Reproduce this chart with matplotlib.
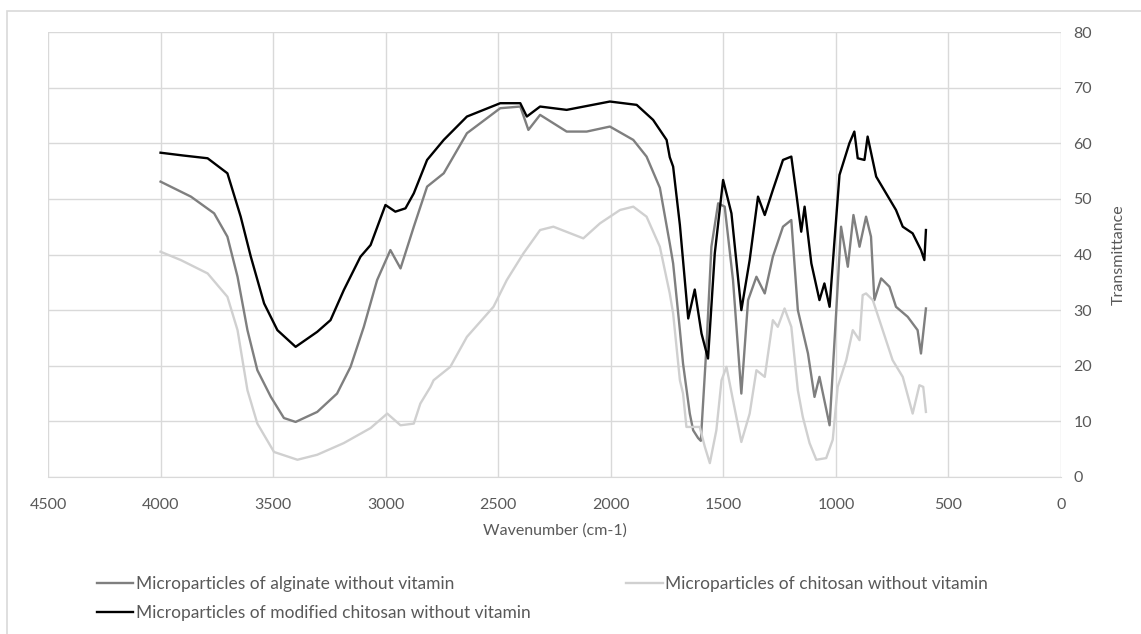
import matplotlib
matplotlib.use("Agg")
import matplotlib.pyplot as plt
from matplotlib.patches import Rectangle

# FTIR spectra (wavenumber cm-1, transmittance)
alg_wn = [4000, 3865, 3762, 3703, 3658, 3614, 3570, 3510, 3452, 3400, 3304, 3216,
          3156, 3097, 3038, 2979, 2934, 2875, 2816, 2742, 2639, 2491, 2402, 2366,
          2314, 2196, 2107, 2004, 1900, 1841, 1782, 1760, 1738, 1723, 1693, 1679,
          1649, 1634, 1612, 1600, 1575, 1553, 1523, 1494, 1457, 1420, 1390, 1353,
          1316, 1280, 1235, 1198, 1169, 1124, 1095, 1073, 1028, 999, 977, 947, 922,
          895, 866, 844, 829, 799, 762, 733, 681, 637, 622, 600]
alg_t = [53.1, 50.4, 47.4, 43.2, 36.0, 26.4, 19.2, 14.4, 10.6, 9.9, 11.7, 15.0,
         19.8, 27.0, 35.4, 40.8, 37.5, 45.0, 52.2, 54.6, 61.8, 66.3, 66.6, 62.4,
         65.1, 62.1, 62.1, 63.0, 60.6, 57.6, 52.0, 47.0, 42.0, 38.4, 26.4, 20.4,
         11.4, 8.4, 7.0, 6.5, 23.4, 41.4, 49.2, 48.6, 35.4, 15.0, 31.8, 36.0,
         33.0, 39.6, 45.0, 46.2, 30.0, 22.2, 14.4, 18.0, 9.3, 29.4, 45.0, 37.8, 47.1,
         41.4, 46.8, 43.2, 31.8, 35.7, 34.2, 30.6, 28.8, 26.4, 22.2, 30.3]

chi_wn = [4000, 3910, 3791, 3703, 3658, 3614, 3570, 3496, 3392, 3304, 3186, 3067,
          2993, 2934, 2875, 2846, 2801, 2787, 2713, 2639, 2521, 2462, 2388, 2314,
          2255, 2122, 2048, 1959, 1900, 1841, 1782, 1738, 1723, 1693, 1679, 1664,
          1649, 1620, 1605, 1582, 1560, 1531, 1508, 1486, 1457, 1420, 1383, 1353,
          1316, 1280, 1258, 1228, 1198, 1169, 1147, 1117, 1087, 1043, 1014, 992,
          954, 925, 895, 881, 866, 851, 836, 792, 748, 703, 659, 629, 612, 600]
chi_t = [40.5, 39.0, 36.6, 32.4, 26.4, 15.6, 9.6, 4.5, 3.1, 4.0, 6.1, 8.8,
         11.4, 9.3, 9.6, 13.2, 16.2, 17.4, 19.8, 25.2, 30.6, 35.4, 40.2, 44.4,
         45.0, 42.9, 45.6, 48.0, 48.6, 46.8, 41.4, 33.0, 29.4, 17.4, 15.0, 9.0,
         9.0, 9.0, 9.0, 5.4, 2.5, 8.4, 17.4, 19.8, 13.8, 6.3, 11.4, 19.2,
         18.0, 28.2, 27.0, 30.3, 27.0, 15.6, 10.8, 6.1, 3.1, 3.4, 6.7, 16.2,
         21.0, 26.4, 24.6, 32.7, 33.0, 32.4, 31.8, 26.4, 21.0, 18.0, 11.4, 16.5, 16.2, 11.7]

mod_wn = [4000, 3900, 3791, 3703, 3644, 3599, 3540, 3481, 3400, 3304, 3245, 3186,
          3112, 3067, 3001, 2957, 2912, 2875, 2816, 2742, 2639, 2491, 2402, 2373,
          2314, 2196, 2004, 1885, 1812, 1752, 1738, 1723, 1693, 1656, 1627, 1597,
          1568, 1538, 1501, 1464, 1420, 1383, 1346, 1316, 1280, 1235, 1198, 1176,
          1154, 1139, 1109, 1073, 1051, 1028, 1006, 984, 940, 918, 903, 873, 859,
          821, 777, 733, 703, 659, 622, 607, 600]
mod_t = [58.3, 57.8, 57.3, 54.6, 46.8, 39.6, 31.2, 26.4, 23.4, 26.1, 28.2, 33.6,
         39.6, 41.7, 48.9, 47.7, 48.3, 51.0, 57.0, 60.6, 64.8, 67.2, 67.2, 64.8,
         66.6, 66.0, 67.5, 66.9, 64.2, 60.6, 57.5, 55.8, 45.3, 28.5, 33.7, 25.8,
         21.3, 40.2, 53.4, 47.4, 30.0, 39.0, 50.4, 47.1, 51.6, 57.0, 57.6, 51.0,
         44.1, 48.6, 38.4, 31.8, 34.8, 30.6, 42.6, 54.3, 60.0, 62.1, 57.3, 57.0, 61.2,
         54.0, 51.0, 48.0, 45.0, 43.8, 40.8, 39.0, 44.4]

labels = ['Microparticles of alginate without vitamin',
          'Microparticles of chitosan without vitamin',
          'Microparticles of modified chitosan without vitamin']
colors = ['#7f7f7f', '#d0d0d0', '#000000']

plt.rcParams['font.family'] = ['Lato', 'DejaVu Sans']

W, H = 1141, 634
fig = plt.figure(figsize=(W / 100, H / 100), dpi=100)
ax = fig.add_axes([48 / W, (H - 477) / H, (1061 - 48) / W, (477 - 32) / H])

l1, = ax.plot(alg_wn, alg_t, color=colors[0], lw=1.7, label=labels[0])
l2, = ax.plot(chi_wn, chi_t, color=colors[1], lw=1.7, label=labels[1])
l3, = ax.plot(mod_wn, mod_t, color=colors[2], lw=1.7, label=labels[2])

ax.set_xlim(4500, 0)
ax.set_ylim(0, 80)
ax.set_xticks(range(0, 4501, 500))
ax.set_yticks(range(0, 81, 10))
ax.grid(True, color='#d9d9d9', lw=1.0)
ax.set_axisbelow(True)
for s in ax.spines.values():
    s.set_visible(False)
ax.spines['bottom'].set_visible(True)
ax.spines['bottom'].set_color('#d9d9d9')

ax.yaxis.tick_right()
ax.yaxis.set_label_position('right')
ax.tick_params(length=0, colors='#595959', labelsize=11.5)
ax.tick_params(axis='y', pad=9)
ax.tick_params(axis='x', pad=15)
ax.set_xlabel('Wavenumber (cm-1)', color='#595959', fontsize=11.5, labelpad=8)
ax.set_ylabel('Transmittance', color='#595959', fontsize=11.5, labelpad=14)

fig.legend([l1, l3, l2], [labels[0], labels[2], labels[1]], ncol=2,
           loc='upper left', bbox_to_anchor=(97 / W, 1 - 576 / H),
           frameon=False, fontsize=12.5, handlelength=2.1, handletextpad=0.15,
           columnspacing=5.5, labelspacing=0.75, borderpad=0, borderaxespad=0,
           labelcolor='#595959')

fig.patches.append(Rectangle((7 / W, -0.1), 1.2, 1 - 11 / H + 0.1,
                             transform=fig.transFigure, fill=False,
                             edgecolor='#d9d9d9', lw=1.2))

fig.savefig('out.png', dpi=100)
